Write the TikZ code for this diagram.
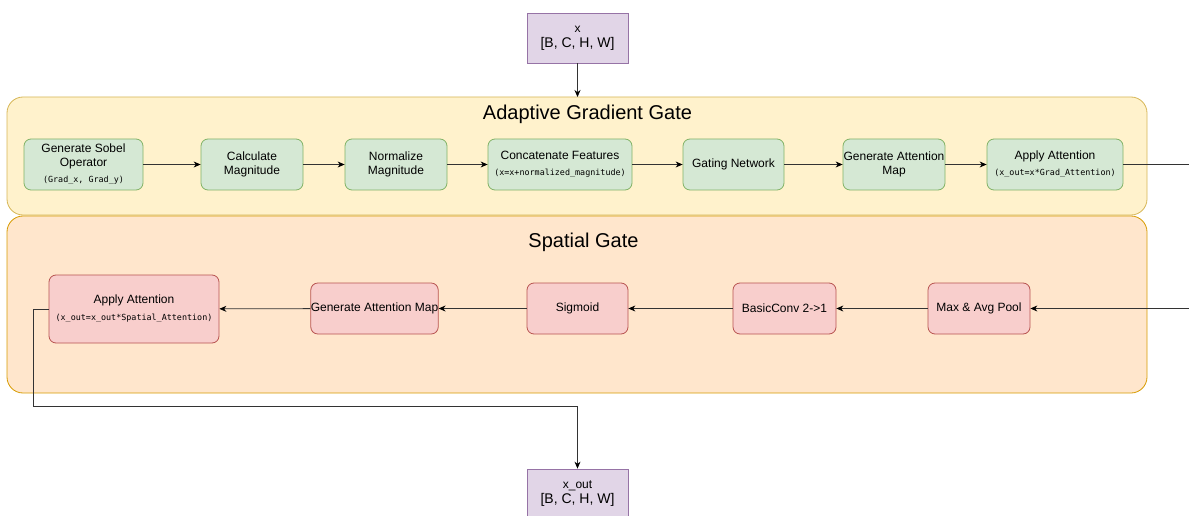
\documentclass[tikz,border=0pt]{standalone}
\usepackage{fontspec}
\setmainfont{Liberation Sans}
\setmonofont{DejaVu Sans Mono}
\usetikzlibrary{arrows.meta}
\definecolor{ygfill}{HTML}{FFF2CC}
\definecolor{ygdraw}{HTML}{D6B656}
\definecolor{orfill}{HTML}{FFE6CC}
\definecolor{ordraw}{HTML}{D79B00}
\definecolor{grfill}{HTML}{D5E8D4}
\definecolor{grdraw}{HTML}{82B366}
\definecolor{rdfill}{HTML}{F8CECC}
\definecolor{rddraw}{HTML}{B85450}
\definecolor{pufill}{HTML}{E1D5E7}
\definecolor{pudraw}{HTML}{9673A6}
\definecolor{linec}{HTML}{333333}
\newcommand{\mysmallmono}{\ttfamily\fontsize{8.4}{10}\selectfont}
\begin{document}
\begin{tikzpicture}[x=1pt,y=-1pt,
  every node/.style={font=\fontsize{12}{14}\selectfont, text=black},
  container/.style={rounded corners=16pt, line width=0.8pt},
  greenbox/.style={draw=grdraw, fill=grfill, rounded corners=7pt, line width=0.8pt, align=center, inner sep=0pt},
  redbox/.style={draw=rddraw, fill=rdfill, rounded corners=7pt, line width=0.8pt, align=center, inner sep=0pt},
  purplebox/.style={draw=pudraw, fill=pufill, line width=0.8pt, align=center, inner sep=0pt, minimum width=101pt, minimum height=50pt, font=\fontsize{12}{15}\selectfont},
  arr/.style={draw=linec, line width=0.8pt, -{Stealth[length=7pt,width=6pt,color=black]}},
  title/.style={font=\fontsize{20}{24}\selectfont}
]
\useasboundingbox (0,0) rectangle (1189,516);
% containers
\draw[container, draw=ygdraw, fill=ygfill] (7,97) rectangle (1147,215);
\draw[container, draw=ordraw, fill=orfill] (7,216) rectangle (1147,393);
\node[title] (t1) at (587.5,114) {Adaptive Gradient Gate};
\node[title] (t2) at (583.5,242) {Spatial Gate};
% input
\node[purplebox] (xin) at (577.5,38) {x\\{\fontsize{14}{15}\selectfont [B, C, H, W]}};
\coordinate (gtop) at (577.5,97);
% green row
\node[greenbox, minimum width=119pt, minimum height=51pt] (g1) at (83.5,164.5) {Generate Sobel\\Operator\\[2pt]{\mysmallmono (Grad\_x, Grad\_y)}};
\node[greenbox, minimum width=102pt, minimum height=51pt] (g2) at (252,164.5) {Calculate\\Magnitude};
\node[greenbox, minimum width=102pt, minimum height=51pt] (g3) at (396,164.5) {Normalize\\Magnitude};
\node[greenbox, minimum width=144pt, minimum height=51pt] (g4) at (560,164.5) {Concatenate Features\\[2pt]{\mysmallmono (x=x+normalized\_magnitude)}};
\node[greenbox, minimum width=101pt, minimum height=51pt] (g5) at (733.5,164.5) {Gating Network};
\node[greenbox, minimum width=102pt, minimum height=51pt] (g6) at (894,164.5) {Generate Attention\\Map};
\node[greenbox, minimum width=136pt, minimum height=51pt] (g7) at (1055,164.5) {Apply Attention\\[2pt]{\mysmallmono (x\_out=x*Grad\_Attention)}};
\coordinate (outR) at (1189,164.5);
\draw[arr] (xin) -- (gtop);
\draw[arr] (g1) -- (g2);
\draw[arr] (g2) -- (g3);
\draw[arr] (g3) -- (g4);
\draw[arr] (g4) -- (g5);
\draw[arr] (g5) -- (g6);
\draw[arr] (g6) -- (g7);
\draw[draw=linec, line width=0.8pt] (g7.east) -- (outR);
% red row
\node[redbox, minimum width=170pt, minimum height=68pt] (r1) at (134,309) {Apply Attention\\[3pt]{\mysmallmono (x\_out=x\_out*Spatial\_Attention)}};
\node[redbox, minimum width=127pt, minimum height=51pt] (r2) at (374.5,308.5) {Generate Attention Map};
\node[redbox, minimum width=101pt, minimum height=51pt] (r3) at (577.5,308.5) {Sigmoid};
\node[redbox, minimum width=103pt, minimum height=51pt] (r4) at (784.5,308.5) {BasicConv 2->1};
\node[redbox, minimum width=102pt, minimum height=51pt] (r5) at (979,308.5) {Max \& Avg Pool};
\coordinate (inR) at (1189,308.5);
\draw[arr] (inR) -- (r5);
\draw[arr] (r5) -- (r4);
\draw[arr] (r4) -- (r3);
\draw[arr] (r3) -- (r2);
\draw[arr] (r2) -- (r1);
% output
\node[purplebox] (xout) at (577.5,494) {x\_out\\{\fontsize{14}{15}\selectfont [B, C, H, W]}};
\coordinate (c1) at (33,406);
\draw[arr] (r1.west) -| (c1) -| (xout.north);
\end{tikzpicture}
\end{document}
